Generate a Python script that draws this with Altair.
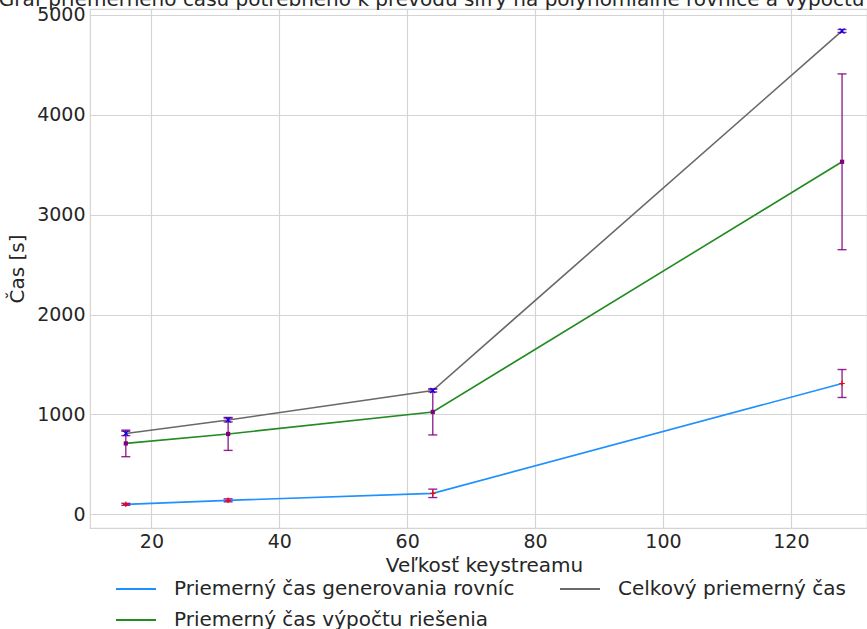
import altair as alt
import pandas as pd

# ---- data ----
series_names = [
    "Priemerný čas generovania rovníc",
    "Priemerný čas výpočtu riešenia",
    "Celkový priemerný čas",
]
keystream = [16, 32, 64, 128]
gen_mean = [100, 140, 210, 1310]
gen_err = [10, 15, 42, 140]
vyp_mean = [710, 805, 1025, 3530]
vyp_err = [133, 165, 230, 880]
tot_mean = [810, 945, 1240, 4840]
tot_err = [22, 20, 15, 15]

x_ticks = [20, 40, 60, 80, 100, 120]
y_ticks = [0, 1000, 2000, 3000, 4000, 5000]

rows = []
for name, means, errs in zip(series_names, [gen_mean, vyp_mean, tot_mean], [gen_err, vyp_err, tot_err]):
    for xv, m, e in zip(keystream, means, errs):
        rows.append({"series": name, "x": xv, "y": m, "lo": m - e, "hi": m + e})
df = pd.DataFrame(rows)

FONT = "DejaVu Sans"
TXT = "#262626"
GRID = "#d4d4d4"

line_colors = ["#1E90FF", "#228B22", "#696969"]

xs = alt.Scale(domain=[10.4, 131.9], nice=False, zero=False)
ys = alt.Scale(domain=[-137, 5060], nice=False, zero=False)

X = alt.X("x:Q", scale=xs, axis=alt.Axis(values=x_ticks, title="Veľkosť keystreamu"))
Y = alt.Y("y:Q", scale=ys, axis=alt.Axis(values=y_ticks, format="d", title="Čas [s]"))

base = alt.Chart(df)

lines = base.mark_line(strokeWidth=1.6).encode(
    x=X,
    y=Y,
    color=alt.Color(
        "series:N",
        scale=alt.Scale(domain=series_names, range=line_colors),
        sort=series_names,
        legend=alt.Legend(
            title=None,
            orient="none",
            legendX=36,
            legendY=570,
            columns=2,
            columnPadding=41,
            rowPadding=11,
            symbolType="M-4,0H4",
            symbolSize=100,
            symbolStrokeWidth=2,
            labelOffset=28,
            labelFont=FONT,
            labelFontSize=20,
            labelColor=TXT,
            labelLimit=0,
        ),
    ),
    detail="series:N",
)

err_rule = base.mark_rule(color="#800080", strokeWidth=1.4, opacity=0.85).encode(
    x=X, y=alt.Y("lo:Q", scale=ys), y2="hi:Q"
)
cap_lo = base.mark_tick(orient="horizontal", color="#800080", size=9, thickness=1.4, opacity=0.85).encode(
    x=X, y=alt.Y("lo:Q", scale=ys)
)
cap_hi = base.mark_tick(orient="horizontal", color="#800080", size=9, thickness=1.4, opacity=0.85).encode(
    x=X, y=alt.Y("hi:Q", scale=ys)
)

pts_gen = base.transform_filter(alt.datum.series == series_names[0]).mark_point(
    shape="M-1,0H1M0,-1V1", filled=False, stroke="red", strokeWidth=1.2, size=30, opacity=1
).encode(x=X, y=Y)
pts_vyp = base.transform_filter(alt.datum.series == series_names[1]).mark_point(
    shape="square", filled=True, fill="#800080", size=18, opacity=1
).encode(x=X, y=Y)
pts_tot = base.transform_filter(alt.datum.series == series_names[2]).mark_point(
    shape="M-1,-1L1,1M-1,1L1,-1", filled=False, stroke="blue", strokeWidth=1.2, size=25, opacity=1
).encode(x=X, y=Y)

chart = (
    alt.layer(lines, err_rule, cap_lo, cap_hi, pts_gen, pts_vyp, pts_tot)
    .properties(
        width=777,
        height=519,
        background="white",
        autosize=alt.AutoSizeParams(type="none"),
        padding={"left": 90, "top": 9, "right": 0, "bottom": 101},
        title=alt.TitleParams(
            "Graf priemerného času potrebného k prevodu šifry na polynomiálne rovnice a výpočtu riešenia",
            font=FONT,
            fontSize=20,
            fontWeight="normal",
            color=TXT,
            anchor="middle",
            frame="group",
            baseline="alphabetic",
            offset=0,
            dx=-4,
            dy=20,
        ),
    )
    .configure_view(stroke=GRID, strokeWidth=1.2)
    .configure_axis(
        grid=True,
        gridColor=GRID,
        gridWidth=1.2,
        domain=False,
        ticks=False,
        tickSize=0,
        labelFont=FONT,
        labelFontSize=19,
        labelColor=TXT,
        titleFont=FONT,
        titleFontSize=20,
        titleFontWeight="normal",
        titleColor=TXT,
    )
    .configure_axisX(labelPadding=4, titlePadding=4, titleX=394)
    .configure_axisY(labelPadding=5, titlePadding=9)
)

chart.save("out.html", embed_options={"renderer": "svg", "actions": False})
